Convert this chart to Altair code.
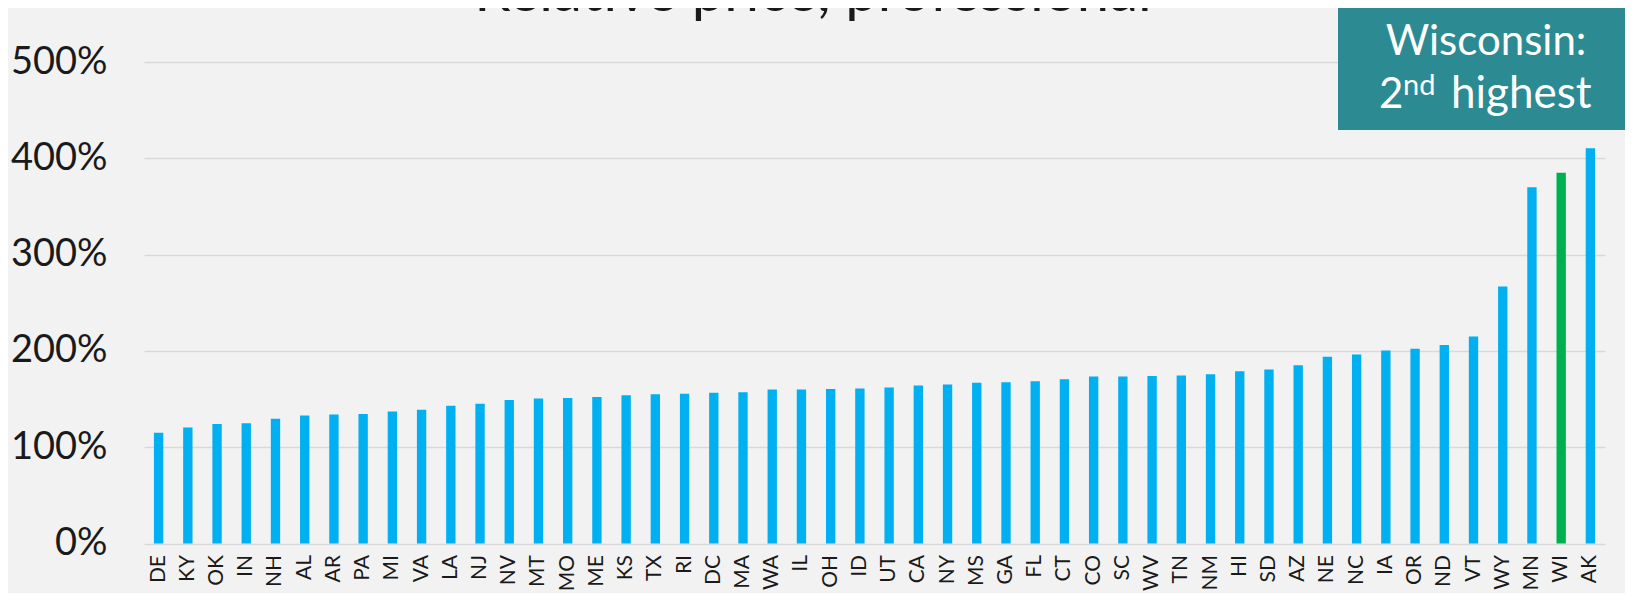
import altair as alt
import pandas as pd

states = ["DE", "KY", "OK", "IN", "NH", "AL", "AR", "PA", "MI", "VA",
          "LA", "NJ", "NV", "MT", "MO", "ME", "KS", "TX", "RI", "DC",
          "MA", "WA", "IL", "OH", "ID", "UT", "CA", "NY", "MS", "GA",
          "FL", "CT", "CO", "SC", "WV", "TN", "NM", "HI", "SD", "AZ",
          "NE", "NC", "IA", "OR", "ND", "VT", "WY", "MN", "WI", "AK"]
values = [115, 120.5, 124, 125, 129.5, 133, 134, 134.5, 137, 139,
          143, 145, 149, 150.5, 151, 152, 154, 155, 155.5, 156.5,
          157, 160, 160, 160.5, 161, 162, 164, 165, 167, 167.5,
          168.5, 170.5, 173.3, 173.4, 174, 174.4, 175.8, 178.9, 180.6, 185,
          193.8, 196.2, 200.5, 202.3, 206, 215, 267, 370, 385, 410.5]
y_ticks = [0, 100, 200, 300, 400, 500]

title_text = "Relative price, professional"
box_line1 = "Wisconsin:"
box_num, box_sup, box_rest = "2", "nd", "highest"

BLUE = "#00B0F0"
GREEN = "#00B050"
TEAL = "#2C8A92"
TEXT = "#1A1A1A"
FONT = "Lato"

df = pd.DataFrame({"state": states, "price": values})

bars = alt.Chart(df).mark_bar(width=alt.RelativeBandSize(0.32)).encode(
    x=alt.X("state:N", sort=None, title=None,
            scale=alt.Scale(paddingInner=0, paddingOuter=0),
            axis=alt.Axis(labelAngle=270, labelAlign="right", labelBaseline="middle",
                          labelPadding=11, labelFontSize=21, labelColor=TEXT,
                          labelFont=FONT, labelOverlap=False, labelLimit=80,
                          ticks=False, tickSize=0, domain=False, grid=False)),
    y=alt.Y("price:Q", title=None, scale=alt.Scale(domain=[0, 500], nice=False),
            axis=alt.Axis(values=y_ticks, labelExpr="datum.value + '%'",
                          labelFontSize=38, labelPadding=37, labelColor=TEXT,
                          labelFont=FONT, ticks=False, tickSize=0, domain=False,
                          gridColor="#D9D9D9", gridWidth=1.5)),
    color=alt.condition(alt.datum.state == "WI", alt.value(GREEN), alt.value(BLUE)),
)

ann = alt.Data(values=[{"k": 1}])

box = alt.Chart(ann).mark_rect(color=TEAL).encode(
    x=alt.value(1194), x2=alt.value(1481), y=alt.value(-60), y2=alt.value(68)
)

def label(text, x, y, size, align="left", color="white"):
    return alt.Chart(ann).mark_text(
        text=text, align=align, baseline="alphabetic", fontSize=size,
        font=FONT, color=color
    ).encode(x=alt.value(x), y=alt.value(y))

title = label(title_text, 669, -51, 58, align="center", color=TEXT)
line1 = label(box_line1, 1342, -7, 42, align="center")
num = label(box_num, 1235, 46, 42)
sup = label(box_sup, 1259, 33, 29)
rest = label(box_rest, 1307, 46, 44)

chart = alt.layer(bars, box, title, line1, num, sup, rest).properties(
    width=1461,
    height=481.5,
    autosize=alt.AutoSizeParams(type="none"),
    padding={"left": 136, "top": 54, "right": 20, "bottom": 49},
    background="#F2F2F2",
).configure_view(stroke=None)

chart.save("out.html", embed_options={"renderer": "svg", "actions": False})
